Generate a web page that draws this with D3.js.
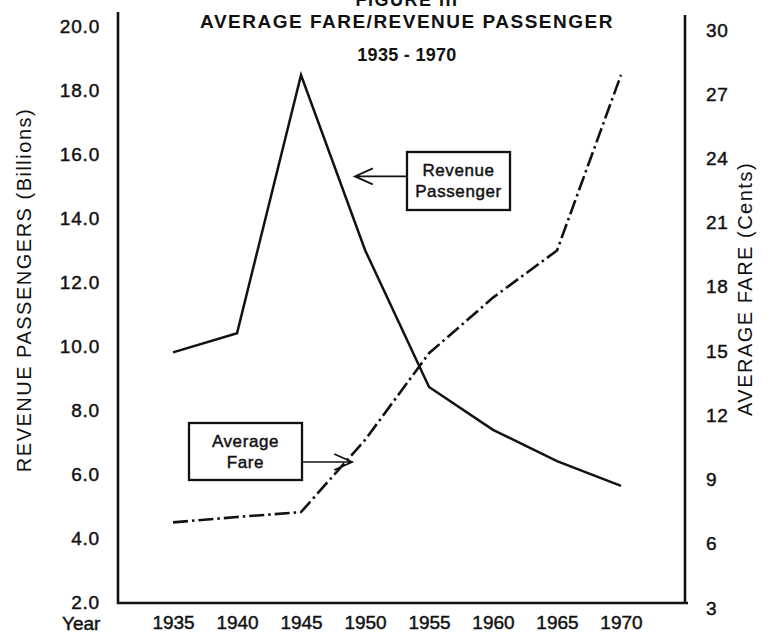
<!DOCTYPE html>
<html>
<head>
<meta charset="utf-8">
<script src="https://cdn.jsdelivr.net/npm/d3@7"></script>
<style>
  body { margin: 0; background: #fff; }
  text { font-family: "Liberation Sans", Arial, sans-serif; fill: #111; }
  .heavy { stroke: #111; stroke-width: 0.45px; }
</style>
</head>
<body>
<svg id="chart" width="784" height="636"></svg>
<script>
// Values
const years = [1935, 1940, 1945, 1950, 1955, 1960, 1965, 1970];
const passengers = [9.8, 10.4, 18.47, 13.0, 8.72, 7.38, 6.4, 5.63];   // billions
const fares = [7.0, 7.25, 7.48, 10.85, 14.9, 17.5, 19.7, 27.9];        // cents
const passengerTicks = [2, 4, 6, 8, 10, 12, 14, 16, 18, 20];
const fareTicks = [3, 6, 9, 12, 15, 18, 21, 24, 27, 30];

const svg = d3.select('#chart');
const ink = '#111';

const x = d3.scaleLinear().domain([1930.7, 1975]).range([118, 685]),
    yL = d3.scaleLinear().domain([2, 20]).range([602, 26]),
    yR = d3.scaleLinear().domain([3, 30]).range([608, 30]);

//Frame: left, bottom and right rules.
  const frame = svg.append('g')
      .attr('stroke', ink)
      .attr('stroke-width', 2.6)
      .attr('fill', 'none');
  frame.append('line').attr('x1', x.range()[0]).attr('y1', 12).attr('x2', x.range()[0]).attr('y2', 604);
  frame.append('line').attr('x1', x.range()[0] - 1).attr('y1', 603).attr('x2', x.range()[1] + 3).attr('y2', 603);
  frame.append('line').attr('x1', x.range()[1]).attr('y1', 15).attr('x2', x.range()[1]).attr('y2', 604);

//Axes: labels only, no ticks.
  const left = svg.append('g')
      .attr('transform', `translate(${x.range()[0]},0)`)
      .call(d3.axisLeft(yL).tickValues(passengerTicks).tickFormat(d3.format('.1f')).tickSize(0).tickPadding(18));
  const right = svg.append('g')
      .attr('transform', `translate(${x.range()[1]},0)`)
      .call(d3.axisRight(yR).tickValues(fareTicks).tickFormat(d3.format('d')).tickSize(0).tickPadding(21));
  const bottom = svg.append('g')
      .attr('transform', 'translate(0,603)')
      .call(d3.axisBottom(x).tickValues(years).tickFormat(d3.format('d')).tickSize(0).tickPadding(13));
  [left, right, bottom].forEach(g => {
      g.select('.domain').remove();
      g.selectAll('text')
          .classed('heavy', true)
          .style('font-family', '"Liberation Sans", Arial, sans-serif')
          .style('font-size', '19px')
          .attr('fill', ink);
  });
  left.selectAll('text').attr('letter-spacing', '0.8px');
  right.selectAll('text').attr('letter-spacing', '0.8px');

  svg.append('text')
      .classed('heavy', true)
      .attr('x', 62)
      .attr('y', 630)
      .style('font-size', '19px')
      .text('Year');

//Axis titles.
  svg.append('text')
      .attr('transform', 'translate(31,290) rotate(-90)')
      .attr('text-anchor', 'middle')
      .attr('letter-spacing', '1.5px')
      .style('font-size', '20px')
      .text('REVENUE PASSENGERS (Billions)');
  svg.append('text')
      .attr('transform', 'translate(752,289) rotate(-90)')
      .attr('text-anchor', 'middle')
      .attr('letter-spacing', '1.5px')
      .style('font-size', '20px')
      .text('AVERAGE FARE (Cents)');

//Titles.
  [{t: 'FIGURE III', y: 6, size: 18, ls: 1.5},
   {t: 'AVERAGE FARE/REVENUE PASSENGER', y: 28, size: 19, ls: 1.5},
   {t: '1935 - 1970', y: 61, size: 18, ls: 0.3}]
      .forEach(d => svg.append('text')
          .attr('x', 407)
          .attr('y', d.y)
          .attr('text-anchor', 'middle')
          .attr('letter-spacing', `${d.ls}px`)
          .style('font-size', `${d.size}px`)
          .style('font-weight', 'bold')
          .text(d.t));

//Series lines.
  const passengerLine = d3.line().x((d, i) => x(years[i])).y(d => yL(d));
  const fareLine = d3.line().x((d, i) => x(years[i])).y(d => yR(d));

  svg.append('path')
      .datum(passengers)
      .attr('d', passengerLine)
      .attr('fill', 'none')
      .attr('stroke', ink)
      .attr('stroke-width', 2.5)
      .attr('stroke-linejoin', 'miter');
  svg.append('path')
      .datum(fares)
      .attr('d', fareLine)
      .attr('fill', 'none')
      .attr('stroke', ink)
      .attr('stroke-width', 2.6)
      .attr('stroke-dasharray', '15,4,2.5,4');

//Labelled callouts with open arrows pointing to each series.
  const callouts = [
      {lines: ['Revenue', 'Passenger'], box: [407, 152, 103, 58], tipYear: 1949.2, tipValue: 15.3, scale: yL, side: 'left'},
      {lines: ['Average', 'Fare'], box: [189, 423, 113, 57], tipYear: 1949.0, tipValue: 9.82, scale: yR, side: 'right'}
  ];
  callouts.forEach(c => {
      const [bx, by, bw, bh] = c.box,
          tx = x(c.tipYear),
          ty = c.scale(c.tipValue),
          sx = c.side === 'left' ? bx : bx + bw,
          dir = c.side === 'left' ? 1 : -1,
          g = svg.append('g');
      g.append('rect')
          .attr('x', bx).attr('y', by).attr('width', bw).attr('height', bh)
          .attr('fill', '#fff')
          .attr('stroke', ink)
          .attr('stroke-width', 2.3);
      c.lines.forEach((t, i) => g.append('text')
          .classed('heavy', true)
          .attr('x', bx + bw/2)
          .attr('y', by + 24 + i*21)
          .attr('text-anchor', 'middle')
          .attr('letter-spacing', '0.6px')
          .style('font-size', '17px')
          .text(t));
      g.append('path')
          .attr('d', `M${sx},${ty}L${tx},${ty}M${tx + dir*18},${ty - 8}L${tx},${ty}L${tx + dir*18},${ty + 8}`)
          .attr('fill', 'none')
          .attr('stroke', ink)
          .attr('stroke-width', 1.7);
  });
</script>
</body>
</html>
